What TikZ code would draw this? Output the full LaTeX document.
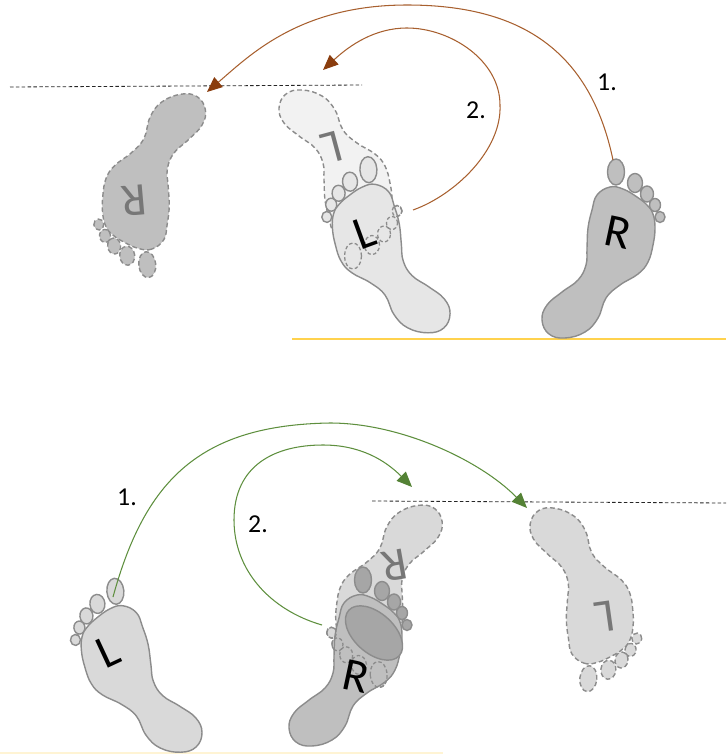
\documentclass[tikz,border=0pt]{standalone}
\usepackage{fontspec}
\setmainfont{Carlito}
\usetikzlibrary{arrows.meta}

\definecolor{soledark}{HTML}{BFBFBF}
\definecolor{solelight}{HTML}{D9D9D9}
\definecolor{solepale}{HTML}{E6E6E6}
\definecolor{soleghost}{HTML}{F2F2F2}
\definecolor{toedark}{HTML}{A6A6A6}
\definecolor{footline}{HTML}{8C8C8C}
\definecolor{arcbrown}{HTML}{A8602F}
\definecolor{arcbrownhead}{HTML}{8A3D0E}
\definecolor{arcgreen}{HTML}{5E8F3E}
\definecolor{arcgreenhead}{HTML}{548235}
\definecolor{floorline}{HTML}{FFD24D}
\definecolor{floorpale}{HTML}{FFF4D4}

% outline of a right sole, toes up, units are pixels (y down)
\newcommand\solepath{plot[smooth cycle, tension=0.7] coordinates {
  (-8,-65) (5,-73) (18,-71) (32,-63) (42,-55) (48,-46) (50,-32) (48,-15)
  (43,2) (33,14) (15,25) (1,38) (-7,58) (-20,72) (-40,78) (-56,74)
  (-63,60) (-58,45) (-43,32) (-27,20) (-19,5) (-18,-12) (-17,-32) (-13,-50)}}
% the five toes of the same sole
\newcommand\toepath{
  (11,-88) ellipse [x radius=8.5, y radius=13]
  (30,-77) ellipse [x radius=7.5, y radius=9.5]
  (42,-66) ellipse [x radius=6.5, y radius=8]
  (50,-55) ellipse [x radius=5.5, y radius=6.5]
  (55,-43) ellipse [x radius=5, y radius=5.5]}

\tikzset{
  sole/.style={draw=footline, line width=1.2pt, fill=#1},
  ghost/.style={draw=footline, line width=1.2pt, dash pattern=on 4pt off 2.5pt, fill=#1},
  trace/.style={draw=footline, line width=1.1pt, dash pattern=on 3pt off 2pt},
  footlabel/.style={font=\fontsize{40}{40}\selectfont, text=black, inner sep=0pt},
  ghostlabel/.style={footlabel, text=footline!85!black},
  stepnum/.style={font=\fontsize{22}{24}\selectfont, inner sep=0pt},
  backarc/.style={draw=arcbrown, line width=0.9pt,
    -{Triangle[length=13pt, width=11pt, fill=arcbrownhead, color=arcbrownhead]}},
  fwdarc/.style={draw=arcgreen, line width=0.9pt,
    -{Triangle[length=13pt, width=11pt, fill=arcgreenhead, color=arcgreenhead]}},
  stopline/.style={draw=black!85, line width=0.7pt, dash pattern=on 3pt off 2pt}
}

\begin{document}
\begin{tikzpicture}[x=0.03cm, y=-0.03cm]
\useasboundingbox (0,0) rectangle (726,755);

% ---- turning back (top) ----
\coordinate (backstopA) at (10,87);
\coordinate (backstopB) at (362,85);
\draw[stopline] (backstopA) -- (backstopB);
\coordinate (floorA) at (292,339);
\coordinate (floorB) at (726,339);
\draw[floorline, line width=1.8pt] (floorA) -- (floorB);

% right foot, set down backwards
\begin{scope}[shift={(149,176)}, rotate=186]
  \draw[ghost=soledark] \toepath;
  \draw[ghost=soledark] \solepath;
\end{scope}
\node[ghostlabel, rotate=185] (ghostR1) at (134,201) {R};

% left foot, old and new place
\begin{scope}[shift={(342,168)}, yscale=-1]
  \draw[ghost=soleghost] \toepath;
  \draw[ghost=soleghost] \solepath;
\end{scope}
\node[ghostlabel, rotate=195] (ghostL1) at (332,148) {L};
\begin{scope}[shift={(384,257)}, rotate=3, xscale=-1]
  \draw[sole=solepale] \toepath;
  \draw[sole=solepale] \solepath;
\end{scope}
\begin{scope}[shift={(342,168)}, yscale=-1]
  \draw[trace] \toepath;
\end{scope}
\node[footlabel, rotate=20] (footL1) at (365,233) {L};

% right foot, start
\begin{scope}[shift={(605,260)}]
  \draw[sole=soledark] \toepath;
  \draw[sole=soledark] \solepath;
\end{scope}
\node[footlabel, rotate=-12] (footR1) at (618,232) {R};

% steps
\coordinate (toeR1) at (613,160);
\coordinate (topR1) at (407,5);
\coordinate (landR1) at (207,92);
\draw[backarc] (toeR1) .. controls (590,50) and (520,5) .. (topR1)
  .. controls (300,5) and (250,55) .. (landR1);
\coordinate (heelL1) at (413,210);
\coordinate (sideL1) at (500,105);
\coordinate (topL1) at (407,28);
\coordinate (landL1) at (323,70);
\draw[backarc] (heelL1) .. controls (455,195) and (502,150) .. (sideL1)
  .. controls (500,60) and (450,28) .. (topL1)
  .. controls (375,28) and (350,45) .. (landL1);
\node[stepnum] (backnum1) at (607,82) {1.};
\node[stepnum] (backnum2) at (476,110) {2.};

% ---- stepping forward (bottom) ----
\coordinate (fwdstopA) at (372,501);
\coordinate (fwdstopB) at (726,503);
\draw[stopline] (fwdstopA) -- (fwdstopB);
\coordinate (edgeA) at (0,753);
\coordinate (edgeB) at (443,753);
\draw[floorpale, line width=2.5pt] (edgeA) -- (edgeB);

% left foot, start
\begin{scope}[shift={(134,678)}, rotate=5, xscale=-1]
  \draw[sole=solelight] \toepath;
  \draw[sole=solelight] \solepath;
\end{scope}
\node[footlabel, rotate=25] (footL2) at (108,652) {L};

% right foot, old and new place
\begin{scope}[shift={(383.5,586)}, rotate=184]
  \draw[ghost=solelight] \toepath;
  \draw[ghost=solelight] \solepath;
\end{scope}
\node[ghostlabel, rotate=190] (ghostR2) at (395,566) {R};
\begin{scope}[shift={(352,668)}]
  \draw[sole=toedark] \toepath;
  \draw[sole=soledark] \solepath;
\end{scope}
\begin{scope}[shift={(383.5,586)}, rotate=184]
  \draw[trace] \toepath;
\end{scope}
\draw[sole=toedark] (374,633) ellipse [x radius=34, y radius=20, rotate=-42];
\node[footlabel, rotate=-12] (footR2) at (356,676) {R};

% left foot, set down backwards
\begin{scope}[shift={(586.6,590)}, rotate=-6, yscale=-1]
  \draw[ghost=solelight] \toepath;
  \draw[ghost=solelight] \solepath;
\end{scope}
\node[ghostlabel, rotate=188] (ghostL2) at (605,617) {L};

% steps
\coordinate (toeL2) at (113,597);
\coordinate (topL2) at (330,423);
\coordinate (landL2) at (527,508);
\draw[fwdarc] (toeL2) .. controls (145,480) and (200,425) .. (topL2)
  .. controls (400,423) and (480,460) .. (landL2);
\coordinate (heelR2) at (322,625);
\coordinate (sideR2) at (234,520);
\coordinate (topR2) at (323,445);
\coordinate (landR2) at (412,487);
\draw[fwdarc] (heelR2) .. controls (270,610) and (234,570) .. (sideR2)
  .. controls (234,465) and (275,445) .. (topR2)
  .. controls (360,445) and (385,460) .. (landR2);
\node[stepnum] (fwdnum1) at (127,497) {1.};
\node[stepnum] (fwdnum2) at (258,524) {2.};
\end{tikzpicture}
\end{document}
